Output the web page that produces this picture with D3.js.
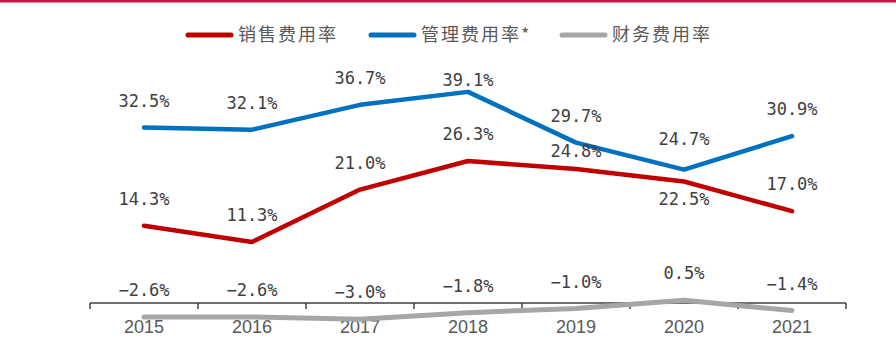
<!DOCTYPE html>
<html>
<head>
<meta charset="utf-8">
<script src="https://cdn.jsdelivr.net/npm/d3@7/dist/d3.min.js"></script>
<style>
  html, body { margin: 0; padding: 0; background: #fff; }
  svg { display: block; }
</style>
</head>
<body>
<svg id="chart" width="896" height="360"></svg>
<script>
// ---- data ----
const years = ["2015", "2016", "2017", "2018", "2019", "2020", "2021"];
const salesRate = [14.3, 11.3, 21.0, 26.3, 24.8, 22.5, 17.0];
const adminRate = [32.5, 32.1, 36.7, 39.1, 29.7, 24.7, 30.9];
const financeRate = [-2.6, -2.6, -3.0, -1.8, -1.0, 0.5, -1.4];
const seriesNames = ["销售费用率", "管理费用率*", "财务费用率"];

// ---- layout / style ----
const colors = ["#C00000", "#0070C0", "#A6A6A6"];
const W = 896, H = 360;
const plotLeft = 90, plotRight = 846, plotTop = 60, plotBottom = 330;
// label vertical offsets (px above point), per series
const labelOffsets = [
  [-27, -27, -27, -27, -18, 17, -27],
  [-27, -27, -27, -12, -27, -31, -27],
  [-27, -27, -27, -27, -27, -27, -27]
];

const svg = d3.select("#chart");

// top border
svg.append("rect").attr("x", 0).attr("y", 0).attr("width", W).attr("height", 2.5)
  .attr("fill", "#C8174A");

const x = d3.scaleBand().domain(years).range([plotLeft, plotRight]).padding(0);
const y = d3.scaleLinear().domain([-5, 45]).range([plotBottom, plotTop]);
const cx = d => x(d) + x.bandwidth() / 2;

// axis
const axisY = y(0);
const axisG = svg.append("g");
axisG.append("line").attr("x1", plotLeft).attr("x2", plotRight).attr("y1", axisY).attr("y2", axisY)
  .attr("stroke", "#404040").attr("stroke-width", 1.5);
const boundaries = years.map(d => x(d)).concat([x(years[years.length - 1]) + x.step()]);
axisG.selectAll("line.tick").data(boundaries).enter().append("line")
  .attr("class", "tick")
  .attr("x1", d => d).attr("x2", d => d)
  .attr("y1", axisY).attr("y2", axisY + 6)
  .attr("stroke", "#404040").attr("stroke-width", 1.5);
axisG.selectAll("text.yr").data(years).enter().append("text")
  .attr("class", "yr")
  .attr("x", d => cx(d)).attr("y", 333)
  .attr("text-anchor", "middle")
  .attr("font-family", "'Liberation Sans', Arial, sans-serif")
  .attr("font-size", 18)
  .attr("fill", "#595959")
  .text(d => d);

// lines
const allSeries = [salesRate, adminRate, financeRate];
const line = d3.line().x((d, i) => cx(years[i])).y(d => y(d));
allSeries.forEach((s, k) => {
  svg.append("path").datum(s)
    .attr("d", line)
    .attr("fill", "none")
    .attr("stroke", colors[k])
    .attr("stroke-width", k === 2 ? 5 : 4.5)
    .attr("stroke-linejoin", "round")
    .attr("stroke-linecap", "round");
});

// data labels
const fmt = v => (v < 0 ? "\u2212" : "") + Math.abs(v).toFixed(1) + "%";
allSeries.forEach((s, k) => {
  svg.append("g").selectAll("text").data(s).enter().append("text")
    .attr("x", (d, i) => cx(years[i]))
    .attr("y", (d, i) => y(d) + labelOffsets[k][i])
    .attr("dy", "0.36em")
    .attr("text-anchor", "middle")
    .attr("font-family", "'DejaVu Sans Mono', 'Liberation Mono', monospace")
    .attr("font-size", 17)
    .attr("fill", "#404040")
    .text(d => fmt(d));
});

// legend
const legendX = [186, 369, 560];
const legend = svg.append("g");
seriesNames.forEach((name, k) => {
  legend.append("line")
    .attr("x1", legendX[k] + 2).attr("x2", legendX[k] + 45)
    .attr("y1", 35).attr("y2", 35)
    .attr("stroke", colors[k]).attr("stroke-width", 5)
    .attr("stroke-linecap", "round");
  legend.append("text")
    .attr("x", legendX[k] + 52).attr("y", 35)
    .attr("dy", "0.36em")
    .attr("font-family", "'Noto Sans CJK SC', sans-serif")
    .attr("font-size", 18)
    .attr("letter-spacing", 2)
    .attr("fill", "#595959")
    .text(name);
});
</script>
</body>
</html>
